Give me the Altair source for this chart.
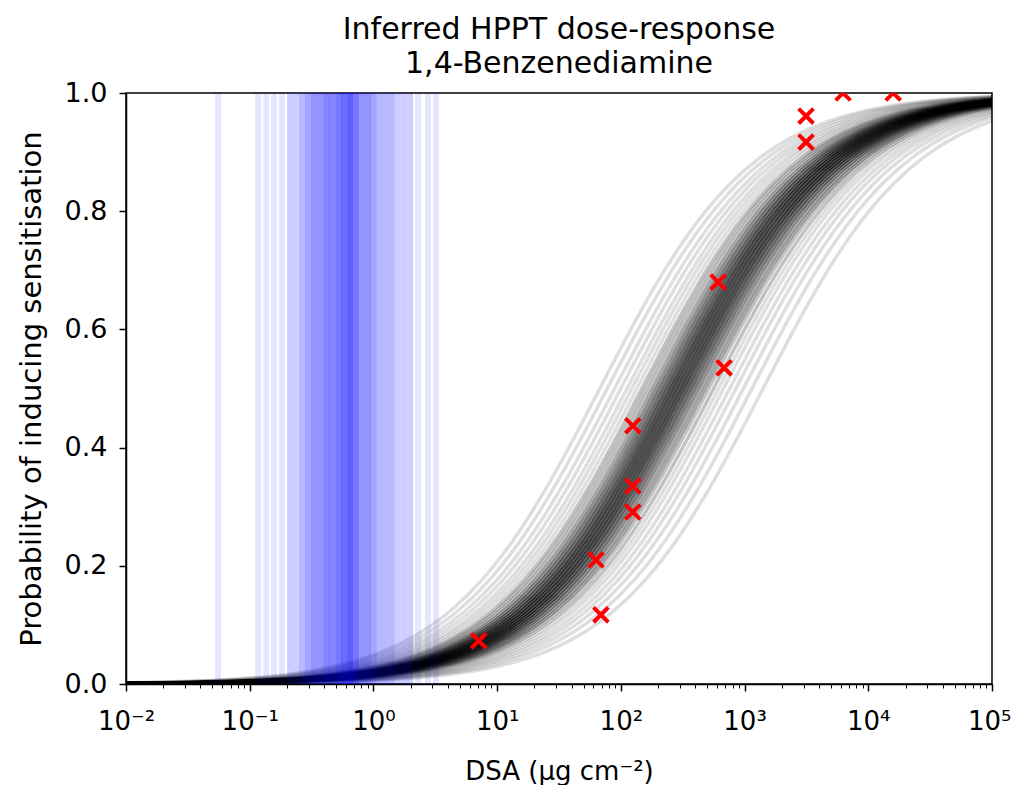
import altair as alt
import pandas as pd

# Median dose-response curve (log10 DSA, probability)
MEDIAN_LOG_DSA = [-3.0, -2.75, -2.5, -2.25, -2.0, -1.75, -1.5, -1.25, -1.0, -0.75,
                  -0.5, -0.25, 0.0, 0.25, 0.5, 0.75, 1.0, 1.25, 1.5, 1.75,
                  2.0, 2.25, 2.5, 2.75, 3.0, 3.25, 3.5, 3.75, 4.0, 4.25,
                  4.5, 4.75, 5.0, 5.25, 5.5, 5.75, 6.0]
MEDIAN_PROB = [0.00015, 0.00022, 0.00033, 0.00049, 0.00074, 0.00111, 0.00166, 0.00249, 0.00372, 0.00558,
               0.00833, 0.0124, 0.0186, 0.0276, 0.0407, 0.0598, 0.0871, 0.1252, 0.1767, 0.2434,
               0.3254, 0.4197, 0.5202, 0.6192, 0.7091, 0.7852, 0.8457, 0.8915, 0.9249, 0.9486,
               0.9652, 0.9765, 0.9842, 0.9894, 0.9929, 0.9953, 0.9968]

# Posterior sample curves: horizontal shift from the median (decades) and number of samples there
SHIFT_POS = [-0.62, -0.56, -0.50, -0.45, -0.40, -0.36, -0.32, -0.28, -0.25, -0.22,
             -0.19, -0.16, -0.13, -0.10, -0.07, -0.04, -0.01, 0.02, 0.05, 0.08,
             0.11, 0.14, 0.17, 0.20, 0.23, 0.26, 0.30, 0.34, 0.38, 0.43,
             0.48, 0.54, 0.61, 0.70]
SHIFT_COUNT = [1, 1, 1, 1, 1, 1, 1, 2, 2, 2,
               3, 4, 5, 6, 7, 8, 8, 8, 8, 7,
               6, 5, 4, 3, 3, 2, 2, 1, 1, 1,
               1, 1, 1, 1]

# Inferred HPPT threshold samples (blue vertical lines), DSA in ug/cm2
BLUE_DSA = ([0.0555, 0.117, 0.136, 0.157, 0.182]
            + [0.212] * 2 + [0.237] * 2 + [0.265] * 3 + [0.296] * 4
            + [0.331] * 5 + [0.370] * 5 + [0.414] * 6 + [0.462] * 6
            + [0.518] * 7 + [0.578] * 8 + [0.647] * 9 + [0.723] * 7
            + [0.809] * 5 + [0.904] * 5 + [1.01] * 4 + [1.13] * 3
            + [1.26] * 3 + [1.41] * 3 + [1.58] * 2 + [1.77] * 2
            + [1.98] * 2 + [2.30, 2.76, 3.21])

# Observed data (red crosses)
OBS_DSA = [7.1, 63, 69, 125, 125, 125, 611, 683, 3140, 3140, 6250, 15900]
OBS_PROB = [0.073, 0.21, 0.117, 0.437, 0.335, 0.291, 0.680, 0.535, 0.961, 0.917, 1.0, 1.0]

X_EXPONENTS = [-2, -1, 0, 1, 2, 3, 4, 5]
X_LABELS = ["10⁻²", "10⁻¹", "10⁰", "10¹", "10²", "10³", "10⁴", "10⁵"]
Y_TICKS = [0.0, 0.2, 0.4, 0.6, 0.8, 1.0]

rows = []
curve_id = 0
for s, n in zip(SHIFT_POS, SHIFT_COUNT):
    for _ in range(n):
        for t, p in zip(MEDIAN_LOG_DSA, MEDIAN_PROB):
            rows.append({"curve": curve_id, "dsa": 10 ** (t + s), "p": p})
        curve_id += 1
curves_df = pd.DataFrame(rows)
blue_df = pd.DataFrame({"dsa": BLUE_DSA})
obs_df = pd.DataFrame({"dsa": OBS_DSA, "p": OBS_PROB})

major = [10.0 ** e for e in X_EXPONENTS]
minor = [m * 10.0 ** e for e in X_EXPONENTS[:-1] for m in range(2, 10)]
tick_values = sorted(major + minor)

exp_expr = "round(log(datum.value)/LN10)"
is_major = f"abs(log(datum.value)/LN10 - {exp_expr}) < 0.001"
label_expr = "''"
for e, lab in reversed(list(zip(X_EXPONENTS, X_LABELS))):
    label_expr = f"({exp_expr} == {e}) ? '{lab}' : {label_expr}"
label_expr = f"({is_major}) ? ({label_expr}) : ''"
is_last = "datum.value >= 99999"

FONT = "DejaVu Sans"

xscale = alt.Scale(type="log", domain=[0.01, 100000], nice=False)
yscale = alt.Scale(domain=[0, 1], nice=False)

xaxis = alt.Axis(
    title="DSA (μg cm⁻²)",
    values=tick_values,
    labelExpr=label_expr,
    labelOverlap=False,
    labelFlush=False,
    labelAlign={"condition": {"test": is_last, "value": "right"}, "value": "center"},
    labelOffset={"condition": {"test": is_last, "value": 19}, "value": 0},
    grid=False,
    tickSize={"condition": {"test": is_major, "value": 7}, "value": 4},
    tickWidth={"condition": {"test": is_major, "value": 1.5}, "value": 1},
    labelFontSize=26,
    titleFontSize=26,
    labelPadding=17,
    titlePadding=24,
)
yaxis = alt.Axis(
    title="Probability of inducing sensitisation",
    values=Y_TICKS,
    format=".1f",
    grid=False,
    tickSize=7,
    tickWidth=1.5,
    labelFontSize=27,
    titleFontSize=29,
    labelPadding=12,
    titlePadding=18,
)

curves = alt.Chart(curves_df).mark_line(
    color="black", opacity=0.13, strokeWidth=3.5, clip=True, interpolate="monotone"
).encode(
    x=alt.X("dsa:Q", scale=xscale, axis=xaxis),
    y=alt.Y("p:Q", scale=yscale, axis=yaxis),
    detail="curve:N",
)

blue = alt.Chart(blue_df).mark_rule(color="#0000ff", opacity=0.1, strokeWidth=6, clip=True).encode(
    x=alt.X("dsa:Q", scale=xscale),
)

cross = "M -1 -1 L 1 1 M -1 1 L 1 -1"
obs = alt.Chart(obs_df).mark_point(
    shape=cross, size=220, stroke="#ff0000", strokeWidth=4, filled=False, opacity=1, clip=True
).encode(
    x=alt.X("dsa:Q", scale=xscale),
    y=alt.Y("p:Q", scale=yscale),
)

chart = alt.layer(curves, blue, obs).properties(
    width=866,
    height=591,
    title=alt.TitleParams(
        ["Inferred HPPT dose-response", "1,4-Benzenediamine"],
        fontSize=30, font=FONT, fontWeight="normal", color="black",
        anchor="middle", offset=0, lineHeight=34,
    ),
    autosize=alt.AutoSizeParams(type="none"),
    padding={"left": 118, "top": 85, "right": 20, "bottom": 101},
).configure_view(
    stroke="black", strokeWidth=1.5
).configure_axis(
    labelFont=FONT, titleFont=FONT, labelColor="black", titleColor="black",
    domainColor="black", domainWidth=1.5, tickColor="black", titleFontWeight="normal",
)

chart.save("out.html", embed_options={"renderer": "svg", "actions": False})
